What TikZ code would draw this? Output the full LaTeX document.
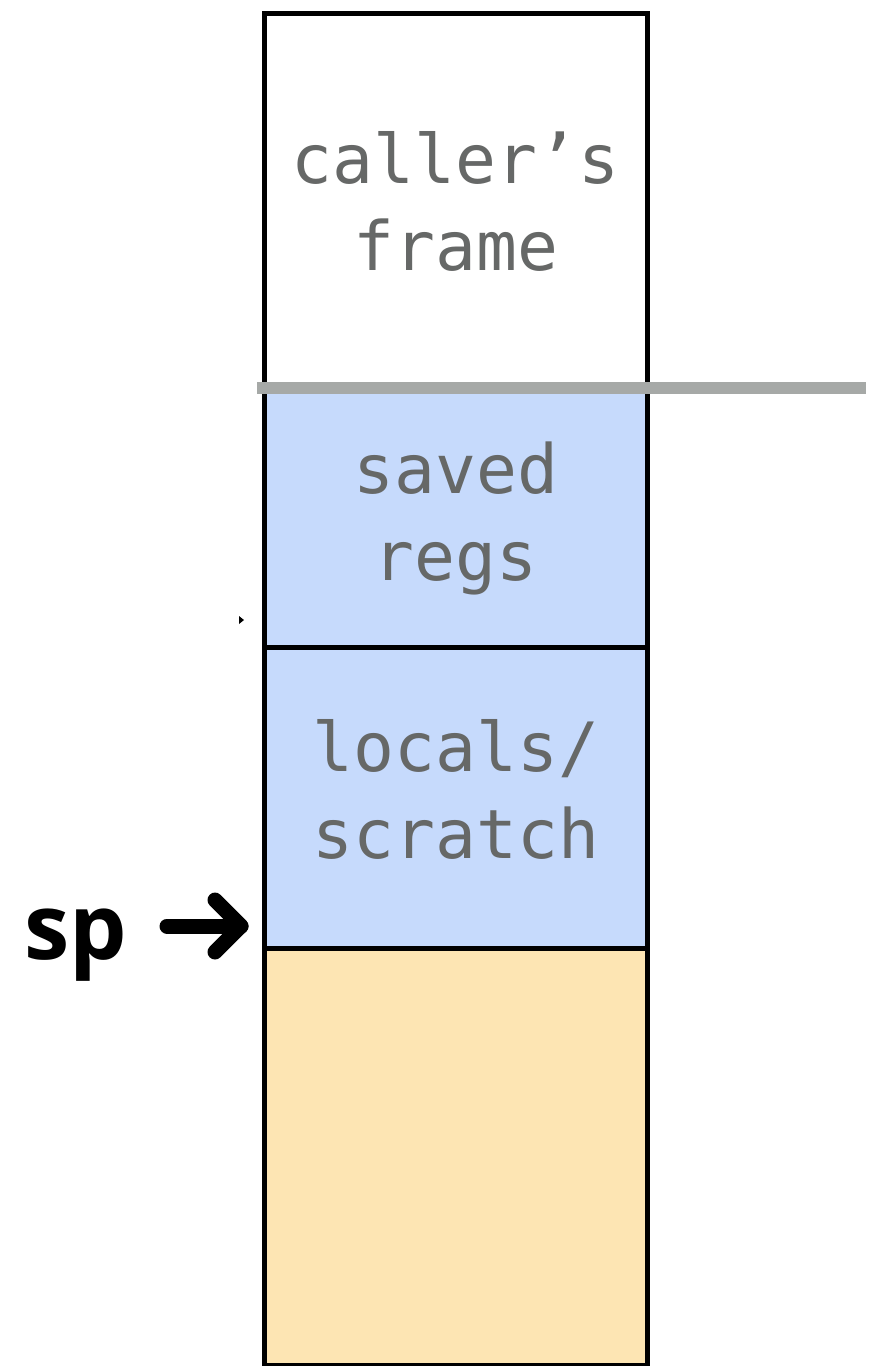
\documentclass[tikz,border=0pt]{standalone}
\usepackage{fontspec}
\setmonofont{DejaVu Sans Mono}
\newfontfamily\spfont{Open Sans}
\begin{document}
\begin{tikzpicture}[x=1pt,y=-1pt]
\definecolor{blueish}{HTML}{C6DAFC}
\definecolor{orangeish}{HTML}{FDE5B3}
\definecolor{txtgray}{HTML}{666867}
\definecolor{divgray}{HTML}{A6A9A7}
\tikzset{
  cell/.style={draw=black, line width=4.5pt, minimum width=383pt, anchor=north west, inner sep=0pt,
    font=\fontsize{68}{87}\ttfamily, text=txtgray, align=center},
}
\useasboundingbox (0,0) rectangle (880,1366);
\node[cell, fill=white, minimum height=377pt] (caller) at (262,11) {caller’s\\frame};
\node[cell, fill=blueish, minimum height=257pt] (saved) at (262,388) {saved\\regs};
\node[cell, fill=blueish, minimum height=301pt] (locals) at (262,645) {\raisebox{5pt}{\begin{tabular}{@{}c@{}}locals/\\[-0.05pt]scratch\end{tabular}}};
\node[cell, fill=orangeish, minimum height=417pt] (free) at (262,946) {};
\coordinate (gl) at (257,388);
\coordinate (gr) at (866,388);
\draw[divgray, line width=12pt] (gl) -- (gr);
\node[font=\spfont\bfseries\fontsize{91}{91}\selectfont, anchor=base west, inner sep=0pt] (sp) at (24,959) {sp};
\coordinate (tip) at (241,926);
\coordinate (tail) at (167,926);
\draw[line width=15pt, line cap=round, line join=round] (tail) -- (tip);
\draw[line width=15pt, line cap=round, line join=round] (215,900) -- (tip) -- (215,952);
\fill (239,616) -- (244,620) -- (239,624) -- cycle;
\end{tikzpicture}
\end{document}
